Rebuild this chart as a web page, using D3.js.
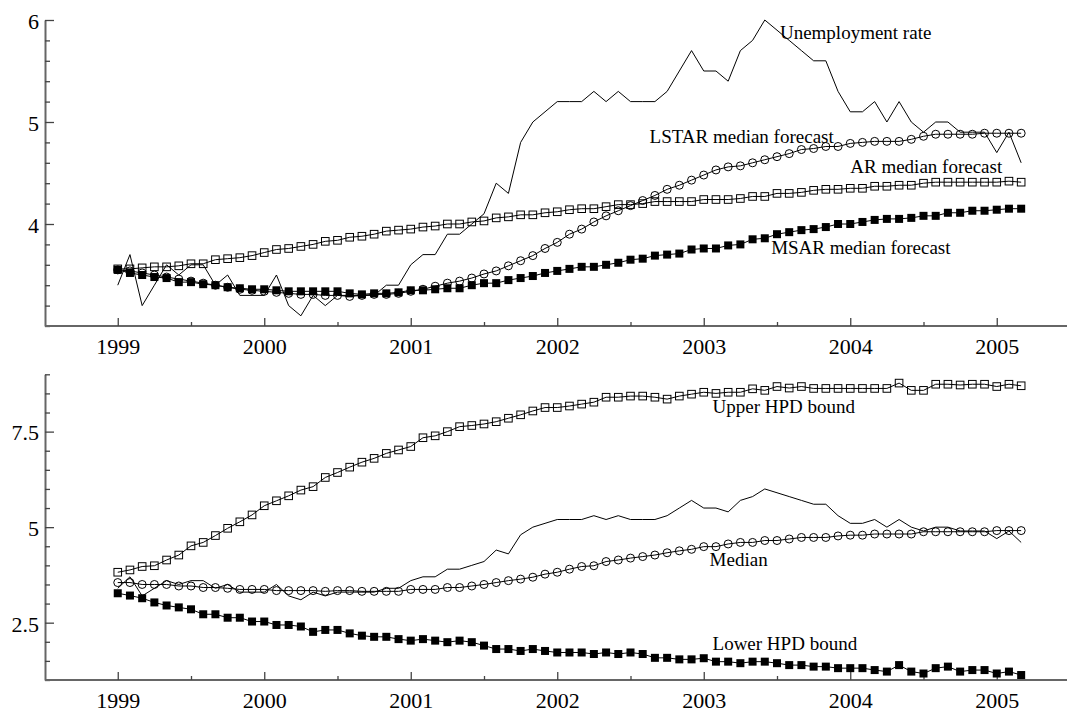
<!DOCTYPE html>
<html>
<head>
<meta charset="utf-8">
<script src="https://cdn.jsdelivr.net/npm/d3@7"></script>
<style>
  html, body { margin: 0; padding: 0; background: #fff; }
  svg { display: block; font-family: "Liberation Serif", "Times New Roman", serif; }
</style>
</head>
<body>
<svg id="chart" width="1067" height="712"></svg>
<script>
// Monthly observations, 1999:1 – 2005:3
const months = d3.range(75).map(i => 1999 + i / 12);

const unemployment = [
  3.4, 3.7, 3.2, 3.4, 3.6, 3.5, 3.6, 3.6, 3.4, 3.5,
  3.3, 3.3, 3.3, 3.5, 3.2, 3.1, 3.3, 3.2, 3.3, 3.3,
  3.3, 3.3, 3.4, 3.4, 3.6, 3.7, 3.7, 3.9, 3.9, 4.0,
  4.1, 4.4, 4.3, 4.8, 5.0, 5.1, 5.2, 5.2, 5.2, 5.3,
  5.2, 5.3, 5.2, 5.2, 5.2, 5.3, 5.5, 5.7, 5.5, 5.5,
  5.4, 5.7, 5.8, 6.0, 5.9, 5.8, 5.7, 5.6, 5.6, 5.3,
  5.1, 5.1, 5.2, 5.0, 5.2, 5.0, 4.9, 5.0, 5.0, 4.9,
  4.9, 4.9, 4.7, 4.9, 4.6
];

const lstarMedian = [
  3.55, 3.54, 3.52, 3.50, 3.48, 3.46, 3.44, 3.42, 3.40, 3.38,
  3.36, 3.35, 3.34, 3.33, 3.32, 3.31, 3.31, 3.30, 3.30, 3.29,
  3.30, 3.31, 3.31, 3.32, 3.34, 3.36, 3.39, 3.42, 3.44, 3.47,
  3.51, 3.54, 3.59, 3.64, 3.69, 3.76, 3.82, 3.90, 3.95, 4.02,
  4.08, 4.13, 4.18, 4.23, 4.28, 4.34, 4.38, 4.43, 4.48, 4.53,
  4.56, 4.57, 4.60, 4.63, 4.66, 4.69, 4.73, 4.74, 4.76, 4.76,
  4.79, 4.80, 4.81, 4.81, 4.81, 4.83, 4.86, 4.88, 4.88, 4.88,
  4.88, 4.89, 4.89, 4.89, 4.89
];

const arMedian = [
  3.56, 3.56, 3.57, 3.58, 3.58, 3.59, 3.61, 3.61, 3.65, 3.66,
  3.67, 3.69, 3.72, 3.75, 3.76, 3.78, 3.80, 3.83, 3.84, 3.87,
  3.88, 3.90, 3.93, 3.94, 3.95, 3.97, 3.98, 4.00, 4.00, 4.02,
  4.03, 4.06, 4.07, 4.09, 4.09, 4.11, 4.12, 4.14, 4.15, 4.15,
  4.17, 4.19, 4.19, 4.20, 4.22, 4.22, 4.22, 4.22, 4.24, 4.24,
  4.24, 4.25, 4.27, 4.27, 4.30, 4.30, 4.31, 4.33, 4.34, 4.34,
  4.35, 4.35, 4.37, 4.37, 4.38, 4.38, 4.40, 4.41, 4.41, 4.41,
  4.41, 4.41, 4.41, 4.42, 4.41
];

const msarMedian = [
  3.55, 3.52, 3.50, 3.48, 3.47, 3.43, 3.43, 3.41, 3.40, 3.38,
  3.37, 3.36, 3.36, 3.35, 3.34, 3.34, 3.34, 3.34, 3.34, 3.32,
  3.31, 3.32, 3.32, 3.33, 3.35, 3.35, 3.36, 3.37, 3.37, 3.40,
  3.42, 3.42, 3.45, 3.47, 3.49, 3.52, 3.54, 3.56, 3.58, 3.58,
  3.60, 3.62, 3.65, 3.66, 3.69, 3.70, 3.71, 3.75, 3.76, 3.76,
  3.79, 3.80, 3.85, 3.86, 3.90, 3.92, 3.94, 3.95, 3.97, 4.00,
  4.00, 4.02, 4.04, 4.05, 4.05, 4.06, 4.08, 4.08, 4.11, 4.11,
  4.13, 4.13, 4.14, 4.15, 4.15
];

const upperHPD = [
  3.82, 3.88, 3.97, 3.99, 4.14, 4.27, 4.51, 4.60, 4.78, 4.97,
  5.14, 5.32, 5.56, 5.69, 5.82, 5.97, 6.06, 6.30, 6.43, 6.57,
  6.70, 6.80, 6.93, 7.02, 7.11, 7.34, 7.39, 7.50, 7.63, 7.66,
  7.70, 7.76, 7.85, 7.94, 8.04, 8.13, 8.13, 8.17, 8.22, 8.27,
  8.40, 8.40, 8.43, 8.43, 8.40, 8.35, 8.43, 8.48, 8.53, 8.50,
  8.53, 8.53, 8.62, 8.58, 8.68, 8.64, 8.68, 8.63, 8.63, 8.63,
  8.63, 8.63, 8.63, 8.63, 8.77, 8.58, 8.58, 8.74, 8.74, 8.72,
  8.74, 8.74, 8.68, 8.74, 8.70
];

const medianHPD = [
  3.55, 3.55, 3.50, 3.50, 3.50, 3.46, 3.46, 3.42, 3.42, 3.40,
  3.37, 3.37, 3.37, 3.34, 3.34, 3.34, 3.34, 3.32, 3.34, 3.34,
  3.32, 3.32, 3.32, 3.32, 3.37, 3.37, 3.37, 3.42, 3.42, 3.46,
  3.50, 3.55, 3.60, 3.64, 3.69, 3.77, 3.82, 3.90, 3.97, 3.99,
  4.10, 4.14, 4.19, 4.23, 4.27, 4.33, 4.38, 4.42, 4.49, 4.49,
  4.56, 4.60, 4.60, 4.65, 4.65, 4.69, 4.73, 4.73, 4.73, 4.77,
  4.79, 4.79, 4.82, 4.82, 4.82, 4.82, 4.88, 4.88, 4.88, 4.88,
  4.88, 4.88, 4.91, 4.91, 4.91
];

const lowerHPD = [
  3.27, 3.21, 3.14, 3.03, 2.95, 2.90, 2.85, 2.72, 2.72, 2.63,
  2.63, 2.53, 2.53, 2.44, 2.44, 2.40, 2.26, 2.31, 2.31, 2.22,
  2.16, 2.13, 2.13, 2.07, 2.03, 2.07, 2.03, 1.99, 2.03, 1.99,
  1.90, 1.81, 1.81, 1.76, 1.81, 1.76, 1.72, 1.72, 1.72, 1.68,
  1.72, 1.68, 1.72, 1.68, 1.58, 1.58, 1.54, 1.54, 1.57, 1.48,
  1.48, 1.44, 1.48, 1.48, 1.44, 1.39, 1.39, 1.35, 1.35, 1.31,
  1.31, 1.31, 1.26, 1.22, 1.39, 1.22, 1.17, 1.31, 1.35, 1.22,
  1.26, 1.26, 1.17, 1.22, 1.13
];

// Axis tick values
const yearTicks = [1999, 2000, 2001, 2002, 2003, 2004, 2005];
const halfYearTicks = [1999.5, 2000.5, 2001.5, 2002.5, 2003.5, 2004.5];
const topMajorTicks = [4, 5, 6];
const bottomMajorTicks = [2.5, 5, 7.5];

// Series annotations: [text, x (year), y (value)]
const topLabels = [
  ["Unemployment rate", 2003.52, 5.81],
  ["LSTAR median forecast", 2002.63, 4.79],
  ["AR median forecast", 2004.0, 4.50],
  ["MSAR median forecast", 2003.46, 3.71]
];
const bottomLabels = [
  ["Upper HPD bound", 2003.06, 8.0],
  ["Median", 2003.04, 3.98],
  ["Lower HPD bound", 2003.06, 1.79]
];

const svg = d3.select("#chart");
const axisX0 = 45;

const x = d3.scaleLinear().domain([1998.5, 2005.5]).range([44.5, 1070]);

function drawPanel(cfg) {
  const y = d3.scaleLinear().domain(cfg.domain).range(cfg.range);
  const g = svg.append("g");

  // minor y ticks (inward, unlabeled)
  const minorY = d3.range(cfg.domain[0], cfg.domain[1] + 1e-9, cfg.minorStep)
    .filter(v => !cfg.major.some(m => Math.abs(m - v) < 1e-6));
  g.append("g")
    .attr("transform", `translate(${axisX0},0)`)
    .call(d3.axisLeft(y).tickValues(minorY).tickSize(-5).tickSizeOuter(0).tickFormat(""))
    .call(a => a.select(".domain").attr("stroke", "#666").attr("stroke-width", 2));

  g.append("g")
    .attr("transform", `translate(${axisX0},0)`)
    .call(d3.axisLeft(y).tickValues(cfg.major).tickSize(-9).tickSizeOuter(0).tickPadding(6)
      .tickFormat(d => String(d)))
    .call(a => a.select(".domain").remove())
    .call(a => a.selectAll("text").attr("font-size", 22).attr("fill", "#000")
      .attr("font-family", "Liberation Serif, serif").attr("dy", "0.38em"));

  // x axis
  const baseY = cfg.range[0];
  g.append("g")
    .attr("transform", `translate(0,${baseY})`)
    .call(d3.axisBottom(x).tickValues(halfYearTicks).tickSize(-4).tickSizeOuter(0).tickFormat(""))
    .call(a => a.select(".domain").attr("stroke", "#666").attr("stroke-width", 2)
      .attr("d", `M${axisX0},0H1067`));
  g.append("g")
    .attr("transform", `translate(0,${baseY})`)
    .call(d3.axisBottom(x).tickValues(yearTicks).tickSize(-8).tickSizeOuter(0).tickPadding(12)
      .tickFormat(d3.format("d")))
    .call(a => a.select(".domain").remove())
    .call(a => a.selectAll("text").attr("font-size", 22).attr("fill", "#000")
      .attr("font-family", "Liberation Serif, serif"));

  g.selectAll(".tick line").attr("stroke", "#444").attr("stroke-width", 1.3);

  const line = d3.line().x((d, i) => x(months[i])).y(d => y(d));

  cfg.series.forEach(s => {
    g.append("path").datum(s.values)
      .attr("fill", "none").attr("stroke", "#000").attr("stroke-width", 1)
      .attr("d", line);
    const pts = g.append("g").selectAll("g").data(s.values).join("g")
      .attr("transform", (d, i) => `translate(${x(months[i])},${y(d)})`);
    if (s.marker === "circle") {
      pts.append("circle").attr("r", 4).attr("fill", "none").attr("stroke", "#000").attr("stroke-width", 1);
    } else if (s.marker === "openSquare") {
      pts.append("rect").attr("x", -3.8).attr("y", -3.8).attr("width", 7.6).attr("height", 7.6)
        .attr("fill", "none").attr("stroke", "#000").attr("stroke-width", 1);
    } else if (s.marker === "filledSquare") {
      pts.append("rect").attr("x", -4).attr("y", -4).attr("width", 8).attr("height", 8)
        .attr("fill", "#000");
    }
  });

  g.selectAll("text.lbl").data(cfg.labels).join("text")
    .attr("class", "lbl")
    .attr("x", d => x(d[1])).attr("y", d => y(d[2]))
    .attr("font-size", 19).attr("fill", "#000")
    .text(d => d[0]);
}

drawPanel({
  domain: [3, 6], range: [326, 20], minorStep: 0.2, major: topMajorTicks,
  series: [
    { values: unemployment, marker: null },
    { values: lstarMedian, marker: "circle" },
    { values: arMedian, marker: "openSquare" },
    { values: msarMedian, marker: "filledSquare" }
  ],
  labels: topLabels
});

drawPanel({
  domain: [1, 9], range: [680, 374.3], minorStep: 0.5, major: bottomMajorTicks,
  series: [
    { values: unemployment, marker: null },
    { values: upperHPD, marker: "openSquare" },
    { values: medianHPD, marker: "circle" },
    { values: lowerHPD, marker: "filledSquare" }
  ],
  labels: bottomLabels
});
</script>
</body>
</html>
